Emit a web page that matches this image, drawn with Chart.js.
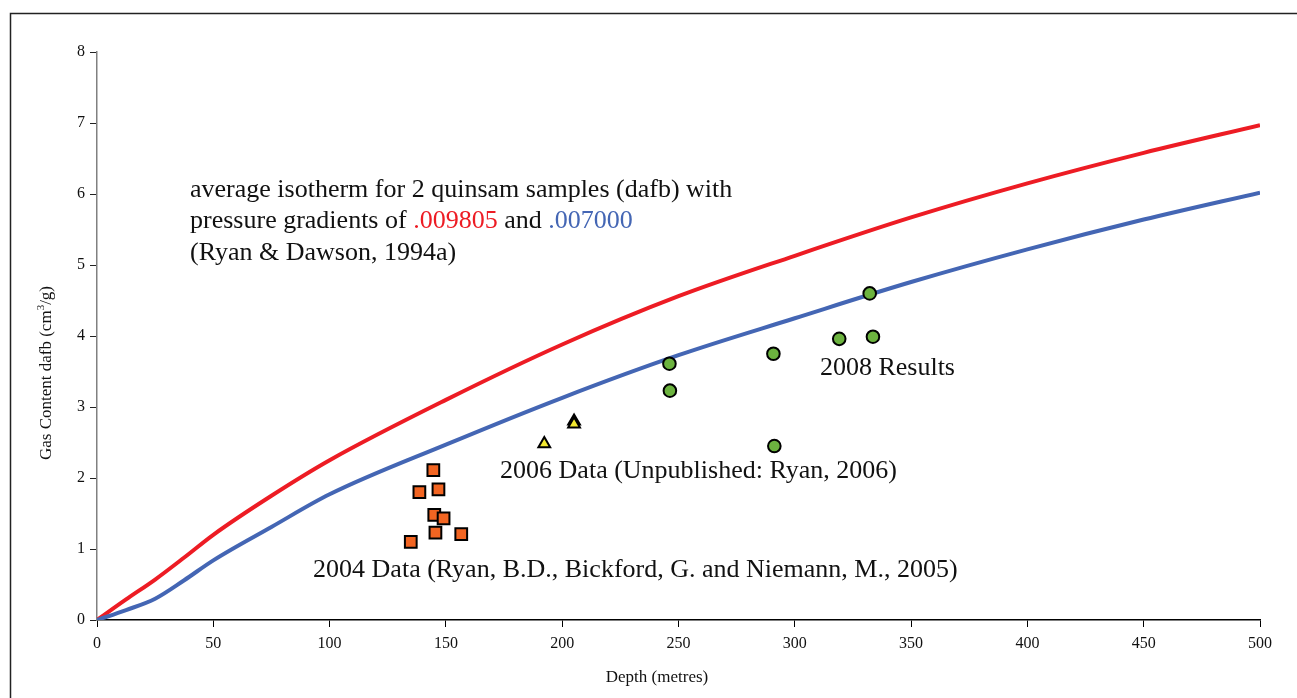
<!DOCTYPE html>
<html>
<head>
<meta charset="utf-8">
<script src="https://cdn.jsdelivr.net/npm/chart.js@4"></script>
<style>
  body { margin: 0; background: #fff; }
  canvas { display: block; }
</style>
</head>
<body>
<canvas id="graphique" width="1297" height="698"></canvas>
<script>

// isotherm curves (depth in metres, gas content cm3/g)
const courbeX = [0, 12.5, 25, 37.5, 50, 75, 100, 150, 200, 250, 300, 350, 400, 450, 500];
const rougeY = [0, 0.29, 0.57, 0.88, 1.2, 1.75, 2.25, 3.1, 3.88, 4.56, 5.13, 5.67, 6.15, 6.58, 6.97];
const bleuY = [0, 0.14, 0.3, 0.56, 0.84, 1.31, 1.77, 2.47, 3.13, 3.73, 4.25, 4.76, 5.22, 5.64, 6.02];

// 2004 data
const donnees2004X = [144.6, 138.6, 146.8, 145.0, 149.0, 145.5, 156.6, 134.9];
const donnees2004Y = [2.11, 1.80, 1.84, 1.48, 1.43, 1.23, 1.21, 1.10];

// 2006 data
const donnees2006X = [192.3, 205.1, 205.1];
const donnees2006Y = [2.48, 2.80, 2.76];

// 2008 results
const resultats2008X = [246.1, 246.3, 290.8, 291.2, 332.2, 319.1, 333.6];
const resultats2008Y = [3.61, 3.23, 3.75, 2.45, 4.60, 3.96, 3.99];

const xTicks = [0, 50, 100, 150, 200, 250, 300, 350, 400, 450, 500];
const yTicks = [0, 1, 2, 3, 4, 5, 6, 7, 8];

const serif = '"Liberation Serif", "Times New Roman", serif';
const rouge = '#ed1c24';
const bleu = '#4466b4';

function points(xs, ys) {
    return xs.map((x, i) => ({ x: x, y: ys[i] }));
}

const annotations = {
    id: 'annotations',
    afterDraw(chart) {
        const ctx = chart.ctx;
        const sx = chart.scales.x;
        const sy = chart.scales.y;
        ctx.save();

        // cadre
        ctx.strokeStyle = '#222';
        ctx.lineWidth = 1.5;
        ctx.beginPath();
        ctx.moveTo(10.5, 698);
        ctx.lineTo(10.5, 13.5);
        ctx.lineTo(1297, 13.5);
        ctx.stroke();

        ctx.fillStyle = '#111';
        ctx.textBaseline = 'middle';
        ctx.textAlign = 'left';
        ctx.font = '26px ' + serif;

        // isotherm note
        const nx = sx.getPixelForValue(40);
        const ny = sy.getPixelForValue(6.06);
        ctx.fillText('average isotherm for 2 quinsam samples (dafb) with', nx, ny);
        let px = nx;
        const morceaux = [
            ['pressure gradients of ', '#111'],
            ['.009805', rouge],
            [' and ', '#111'],
            ['.007000', bleu]
        ];
        morceaux.forEach(([t, c]) => {
            ctx.fillStyle = c;
            ctx.fillText(t, px, ny + 31.5);
            px += ctx.measureText(t).width;
        });
        ctx.fillStyle = '#111';
        ctx.fillText('(Ryan & Dawson, 1994a)', nx, ny + 63);

        ctx.fillText('2008 Results', sx.getPixelForValue(310.8), sy.getPixelForValue(3.54));
        ctx.fillText('2006 Data (Unpublished: Ryan, 2006)', sx.getPixelForValue(173.3), sy.getPixelForValue(2.10));
        ctx.fillText('2004 Data (Ryan, B.D., Bickford, G. and Niemann, M., 2005)', sx.getPixelForValue(92.9), sy.getPixelForValue(0.70));

        // axis titles
        ctx.font = '17px ' + serif;
        ctx.textAlign = 'center';
        ctx.fillText('Depth (metres)', 657, 678);

        ctx.translate(47, 373);
        ctx.rotate(-Math.PI / 2);
        const t1 = 'Gas Content dafb (cm';
        const t2 = '/g)';
        ctx.font = '17px ' + serif;
        const w1 = ctx.measureText(t1).width;
        const w2 = ctx.measureText(t2).width;
        ctx.font = '11px ' + serif;
        const w3 = ctx.measureText('3').width;
        const total = w1 + w2 + w3;
        ctx.textAlign = 'left';
        ctx.font = '17px ' + serif;
        ctx.fillText(t1, -total / 2, 0);
        ctx.font = '11px ' + serif;
        ctx.fillText('3', -total / 2 + w1, -6);
        ctx.font = '17px ' + serif;
        ctx.fillText(t2, -total / 2 + w1 + w3, 0);

        ctx.restore();
    }
};

new Chart(document.querySelector('#graphique'), {

    type: 'scatter',
    data: {
        datasets: [
            {
                label: '2008 Results',
                data: points(resultats2008X, resultats2008Y),
                pointStyle: 'circle',
                pointRadius: 6.3,
                backgroundColor: '#6cb33f',
                borderColor: '#000',
                borderWidth: 2
            },
            {
                label: '2006 Data',
                data: points(donnees2006X, donnees2006Y),
                pointStyle: 'triangle',
                pointRadius: 6.8,
                backgroundColor: '#f2e830',
                borderColor: '#000',
                borderWidth: 2
            },
            {
                label: '2004 Data',
                data: points(donnees2004X, donnees2004Y),
                pointStyle: 'rect',
                pointRadius: 8.3,
                backgroundColor: '#f26522',
                borderColor: '#000',
                borderWidth: 2
            },
            {
                label: '.007000',
                data: points(courbeX, bleuY),
                showLine: true,
                cubicInterpolationMode: 'monotone',
                borderColor: bleu,
                borderWidth: 4,
                pointRadius: 0
            },
            {
                label: '.009805',
                data: points(courbeX, rougeY),
                showLine: true,
                cubicInterpolationMode: 'monotone',
                borderColor: rouge,
                borderWidth: 4,
                pointRadius: 0
            }
        ]
    },
    options: {
        responsive: false,
        animation: false,
        layout: {
            padding: { left: 0, top: 52, right: 37, bottom: 0 }
        },
        plugins: {
            legend: { display: false },
            tooltip: { enabled: false }
        },
        scales: {
            x: {
                type: 'linear',
                min: 0,
                max: 500,
                afterBuildTicks: (s) => { s.ticks = xTicks.map(v => ({ value: v })); },
                afterFit: (s) => { s.height = 78; },
                border: { color: '#000', width: 1.5 },
                grid: { drawOnChartArea: false, drawTicks: true, tickLength: 7, color: '#000' },
                ticks: { color: '#111', padding: 7, font: { family: serif, size: 16 }, maxRotation: 0 }
            },
            y: {
                type: 'linear',
                min: 0,
                max: 8,
                afterBuildTicks: (s) => { s.ticks = yTicks.map(v => ({ value: v })); },
                afterFit: (s) => { s.width = 97; },
                border: { color: '#808080', width: 1.5 },
                grid: { drawOnChartArea: false, drawTicks: true, tickLength: 7, color: '#222' },
                ticks: { color: '#111', padding: 5, font: { family: serif, size: 16 } }
            }
        }
    },
    plugins: [annotations]

});

</script>
</body>
</html>
